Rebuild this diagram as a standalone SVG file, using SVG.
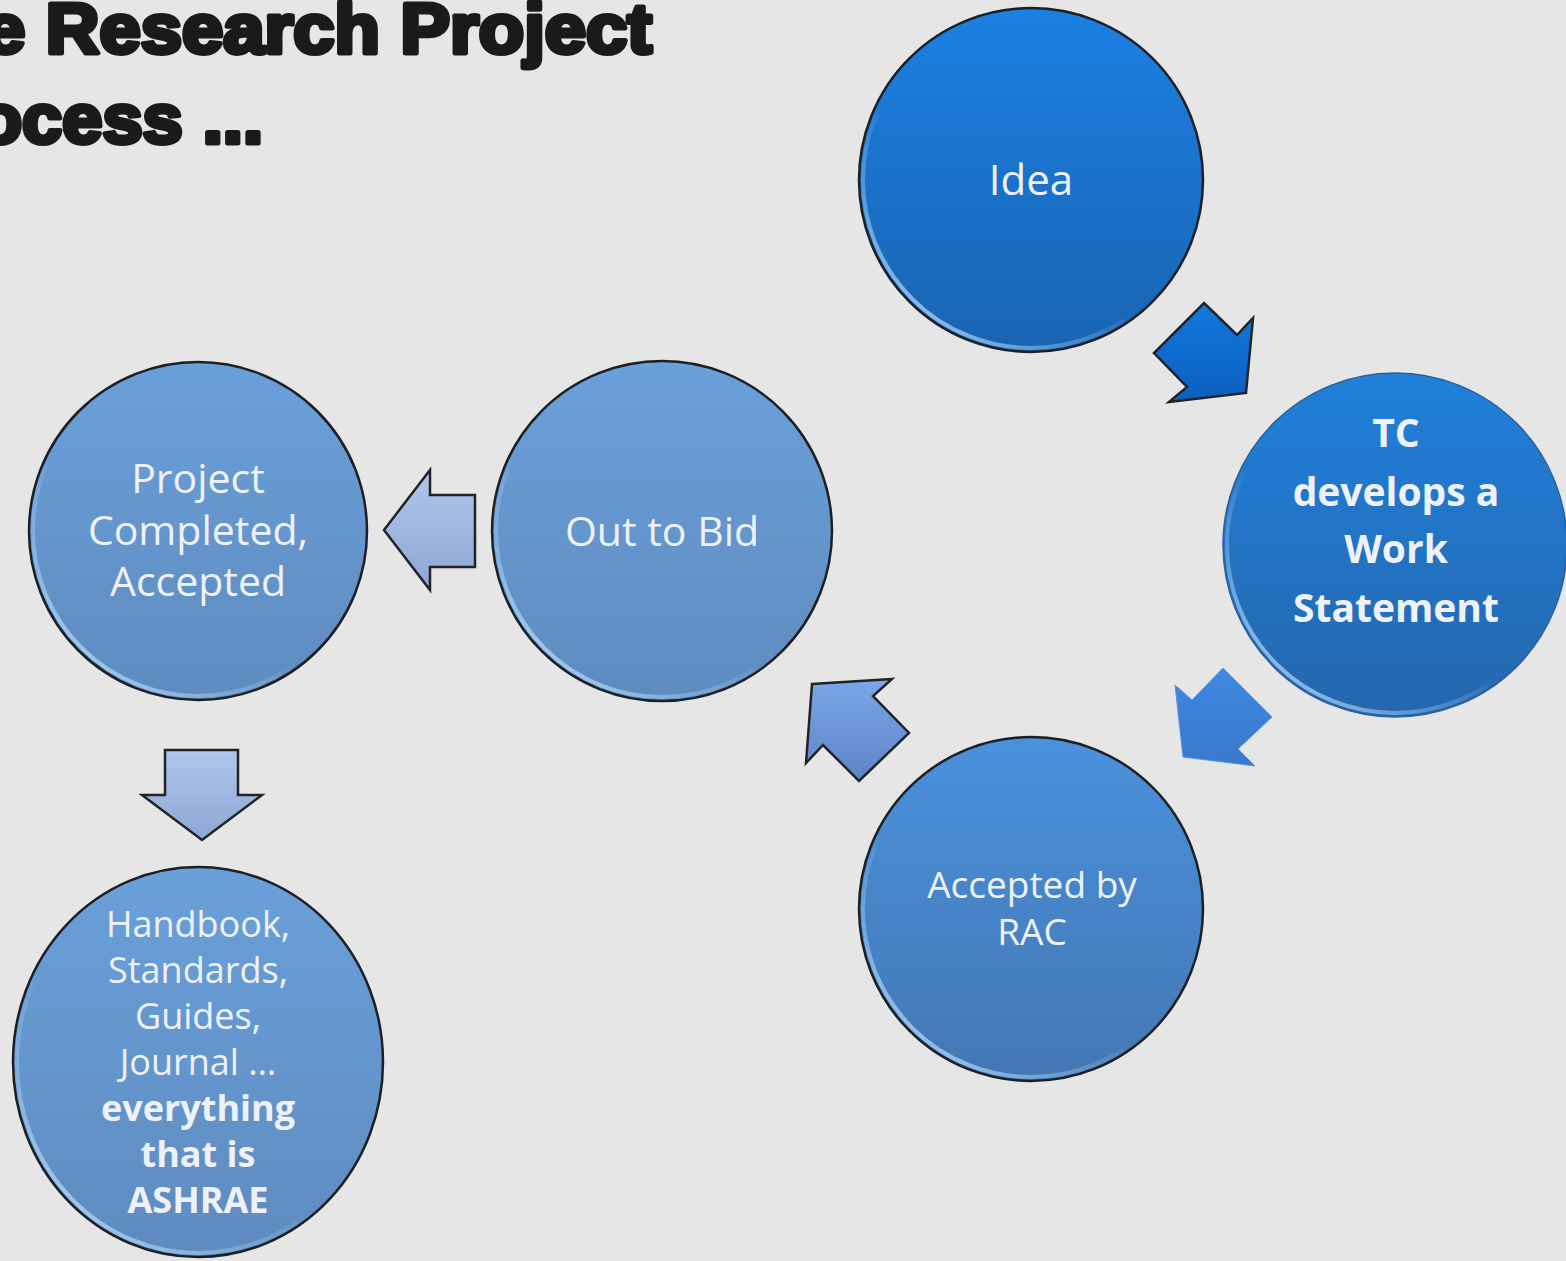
<svg xmlns="http://www.w3.org/2000/svg" width="1566" height="1261" viewBox="0 0 1566 1261">
<defs>
<style>
.title{font-family:"Liberation Sans",Arial,sans-serif;font-weight:bold;fill:#1a1a1a;stroke:#1a1a1a;stroke-width:5;stroke-linejoin:round}
.lbl{font-family:"Open Sans","Noto Sans",sans-serif;fill:#eef2f8;text-anchor:middle}
.b{font-weight:bold}
.rim{fill:none;stroke:#1c1f24;stroke-width:2.5}
.hl{fill:none;stroke:url(#hlg);stroke-width:4}
.arr{stroke:#202428;stroke-width:2.5;stroke-linejoin:miter}
</style>
<linearGradient id="g1" x1="0" y1="0" x2="0" y2="1"><stop offset="0" stop-color="#1b80e2"/><stop offset="1" stop-color="#1964b2"/></linearGradient>
<linearGradient id="g2" x1="0" y1="0" x2="0" y2="1"><stop offset="0" stop-color="#2080db"/><stop offset="1" stop-color="#2567ad"/></linearGradient>
<linearGradient id="g3" x1="0" y1="0" x2="0" y2="1"><stop offset="0" stop-color="#4a91dc"/><stop offset="1" stop-color="#4477b3"/></linearGradient>
<linearGradient id="g4" x1="0" y1="0" x2="0" y2="1"><stop offset="0" stop-color="#6aa0da"/><stop offset="1" stop-color="#5f8bbf"/></linearGradient>
<linearGradient id="hlg" x1="0" y1="1" x2="0.5" y2="0.4"><stop offset="0" stop-color="#d8f0ff" stop-opacity="0.95"/><stop offset="0.5" stop-color="#a8d8ff" stop-opacity="0.35"/><stop offset="0.75" stop-color="#ffffff" stop-opacity="0"/></linearGradient>
<linearGradient id="a1" x1="0" y1="0" x2="0" y2="1"><stop offset="0" stop-color="#1278de"/><stop offset="1" stop-color="#0b5fbf"/></linearGradient>
<linearGradient id="a2" x1="0" y1="0" x2="0" y2="1"><stop offset="0" stop-color="#3f88e2"/><stop offset="1" stop-color="#3a78cc"/></linearGradient>
<linearGradient id="a3" x1="0" y1="0" x2="0" y2="1"><stop offset="0" stop-color="#7aa6ea"/><stop offset="1" stop-color="#5e84c6"/></linearGradient>
<linearGradient id="a4" x1="0" y1="0" x2="0" y2="1"><stop offset="0" stop-color="#b0c6ec"/><stop offset="1" stop-color="#8ea6d4"/></linearGradient>
</defs>
<rect width="1566" height="1261" fill="#e6e6e6"/>
<g id="title">
<text class="title" x="-16" y="53" font-size="70" textLength="668" lengthAdjust="spacingAndGlyphs">e Research Project</text>
<text class="title" x="-22" y="143" font-size="70" textLength="285" lengthAdjust="spacingAndGlyphs">ocess ...</text>
</g>
<g id="connectors">
<polygon class="arr" fill="url(#a1)" points="1204,303 1237,335 1253,318 1246,393 1169,402 1187,387 1154,353"/>
<polygon fill="url(#a2)" stroke="#5a94dc" stroke-width="1" points="1223,668 1272,717 1238,749 1255,766 1183,757 1175,685 1192,700"/>
<polygon class="arr" fill="url(#a3)" points="812,684 892,679 873,696 909,733 859,781 823,745 806,763"/>
<polygon class="arr" fill="url(#a4)" points="384,530 430,470 430,495 475,495 475,567 430,567 430,590"/>
<polygon class="arr" fill="url(#a4)" points="165,750 238,750 238,795 262,795 202,840 142,795 165,795"/>
</g>
<g id="idea">
<circle cx="1031" cy="180" r="172" fill="url(#g1)"/>
<circle class="hl" cx="1031" cy="180" r="168"/>
<circle class="rim" cx="1031" cy="180" r="172"/>
<text class="lbl" x="1031" y="195" font-size="42">Idea</text>
</g>
<g id="tc">
<circle cx="1395" cy="545" r="172" fill="url(#g2)"/>
<circle class="hl" cx="1395" cy="545" r="168"/>
<circle cx="1395" cy="545" r="172" fill="none" stroke="#2a5f98" stroke-width="1.5"/>
<text class="lbl b" x="1396" y="447" font-size="39">TC</text>
<text class="lbl b" x="1396" y="506" font-size="39">develops a</text>
<text class="lbl b" x="1396" y="563" font-size="39">Work</text>
<text class="lbl b" x="1396" y="622" font-size="39">Statement</text>
</g>
<g id="rac">
<circle cx="1031" cy="909" r="172" fill="url(#g3)"/>
<circle class="hl" cx="1031" cy="909" r="168"/>
<circle class="rim" cx="1031" cy="909" r="172"/>
<text class="lbl" x="1032" y="898" font-size="37">Accepted by</text>
<text class="lbl" x="1032" y="945" font-size="37">RAC</text>
</g>
<g id="bid">
<circle cx="662" cy="531" r="170" fill="url(#g4)"/>
<circle class="hl" cx="662" cy="531" r="166"/>
<circle class="rim" cx="662" cy="531" r="170"/>
<text class="lbl" x="662" y="546" font-size="41">Out to Bid</text>
</g>
<g id="completed">
<circle cx="198" cy="531" r="169" fill="url(#g4)"/>
<circle class="hl" cx="198" cy="531" r="165"/>
<circle class="rim" cx="198" cy="531" r="169"/>
<text class="lbl" x="198" y="493" font-size="41">Project</text>
<text class="lbl" x="198" y="545" font-size="41">Completed,</text>
<text class="lbl" x="198" y="596" font-size="41">Accepted</text>
</g>
<g id="handbook">
<ellipse cx="198" cy="1062" rx="185" ry="195" fill="url(#g4)"/>
<ellipse class="hl" cx="198" cy="1062" rx="181" ry="191"/>
<ellipse class="rim" cx="198" cy="1062" rx="185" ry="195"/>
<text class="lbl" x="198" y="937" font-size="36">Handbook,</text>
<text class="lbl" x="198" y="983" font-size="36">Standards,</text>
<text class="lbl" x="198" y="1029" font-size="36">Guides,</text>
<text class="lbl" x="198" y="1075" font-size="36">Journal …</text>
<text class="lbl b" x="198" y="1121" font-size="36">everything</text>
<text class="lbl b" x="198" y="1167" font-size="36">that is</text>
<text class="lbl b" x="198" y="1213" font-size="36">ASHRAE</text>
</g>
</svg>
